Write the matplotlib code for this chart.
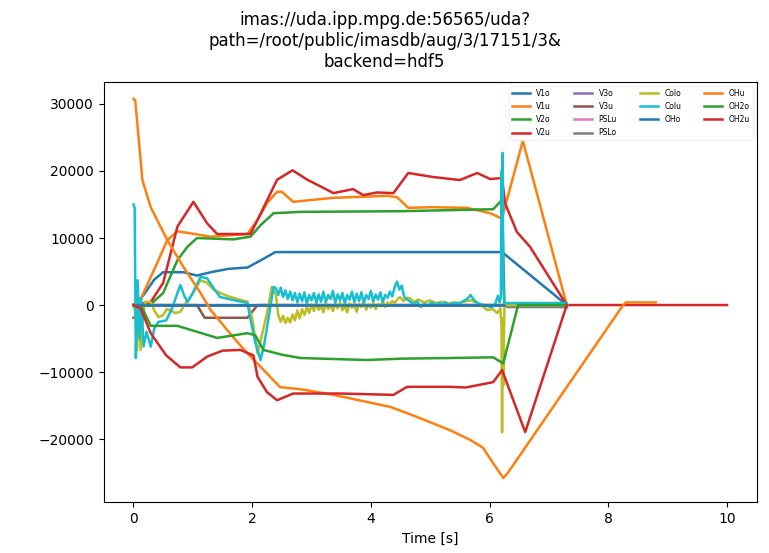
import matplotlib
matplotlib.use('Agg')
import matplotlib.pyplot as plt

title = 'imas://uda.ipp.mpg.de:56565/uda?\npath=/root/public/imasdb/aug/3/17151/3&\nbackend=hdf5'

# coil currents [A] vs time [s]
v1o_t = [0, 0.05, 0.17, 0.35, 0.5, 0.84, 1.07, 1.3, 1.6, 1.92, 2.15, 2.39, 4.0, 6.21, 6.68, 7.3]
v1o_v = [0, 300, 1500, 3800, 4900, 4900, 4400, 4900, 5400, 5600, 6700, 7900, 7900, 7900, 4500, 0]

v1u_t = [0, 0.1, 0.37, 0.57, 0.74, 0.96, 1.3, 1.92, 2.09, 2.25, 2.42, 2.5, 2.69, 3.37, 4.27,
         4.44, 4.63, 5.05, 5.62, 6.01, 6.18, 6.21, 6.56, 7.3]
v1u_v = [0, 500, 5700, 9700, 11000, 10700, 10200, 10600, 12700, 15200, 16900, 16900, 15400, 16000, 16300,
         16100, 14500, 14600, 14500, 13700, 13000, 13000, 24500, 0]

v2o_t = [0, 0.3, 0.5, 0.74, 0.91, 1.07, 1.68, 1.97, 2.14, 2.36, 2.81, 4.5, 6.06, 6.21, 6.25]
v2o_v = [0, 200, 1800, 6700, 8700, 10000, 9800, 10200, 11900, 13700, 13900, 14000, 14300, 15700, 0]

v2u_t = [0, 0.29, 0.5, 0.74, 1.01, 1.24, 1.41, 1.97, 2.09, 2.42, 2.68, 2.93, 3.37, 3.7, 3.87,
         4.1, 4.38, 4.63, 5.05, 5.5, 5.79, 6.01, 6.21, 6.26, 6.46, 6.68, 7.3, 10.0]
v2u_v = [0, 450, 3300, 11700, 15400, 12200, 10600, 10600, 12700, 18700, 20100, 18700, 16700, 17300, 16400,
         16800, 16700, 19700, 19100, 18650, 19700, 18800, 18950, 15200, 10900, 8700, 0, 0]

v3o_t = [0, 7.3]
v3o_v = [0, 0]

v3u_t = [0, 0.04, 0.05, 1.07, 1.2, 1.92, 2.09, 6.3, 7.3]
v3u_v = [-1900, -1900, 0, 0, -1900, -1900, 0, 0, -300]

pslu_t = [0, 7.3]
pslu_v = [0, 0]

pslo_t = [0, 6.25, 6.3, 7.3]
pslo_v = [0, 0, -300, -300]

colo_t = [0, 0.03, 0.06, 0.09, 0.12, 0.16, 0.2, 0.29, 0.35, 0.42, 0.5, 0.56, 0.62, 0.7, 0.79, 0.88,
          0.96, 1.05, 1.13, 1.24, 1.35, 1.46, 1.6, 1.75, 1.92, 2.0, 2.09, 2.15, 2.25, 2.33,
          2.40, 2.44, 2.48, 2.52, 2.56, 2.60, 2.64, 2.68, 2.72, 2.76, 2.80, 2.84, 2.88, 2.92, 2.96,
          3.00, 3.04, 3.08, 3.12, 3.16, 3.20, 3.24, 3.28, 3.32, 3.36, 3.40, 3.44, 3.48, 3.52, 3.56,
          3.60, 3.64, 3.68, 3.72, 3.76, 3.80, 3.84, 3.88, 3.92, 3.96, 4.00, 4.04, 4.08, 4.12, 4.16,
          4.20, 4.24, 4.28, 4.32, 4.36, 4.40,
          4.45, 4.49, 4.55, 4.61, 4.66, 4.72, 4.8, 4.9, 5.0, 5.1, 5.2, 5.3, 5.4,
          5.5, 5.6, 5.7, 5.8, 5.9, 5.96, 6.05, 6.13, 6.18, 6.2, 6.21, 6.22, 6.23, 6.25, 7.3]
colo_v = [0, -1000, -6700, 500, -6700, -1500, 500, 450, -800, -1800, -1500, -600, -750, -1200, -1000, 300,
          1200, 2500, 3700, 3300, 2300, 1800, 1300, 900, 500, -2000, -7200, -5000, -1200, 2700,
          1500, -1500, -2500, -1600, -2700, -1900, -2600, -1400, -2300, -800, -2000, -600, -1500, -300, -1200,
          100, -900, 200, -700, -100, -1100, 300, -600, 0, -900, 200, -500, 400, -800, 0,
          -1100, 300, -400, 100, -1000, 200, -300, 500, -700, 100, -400, 300, -600, 200, -200,
          500, -300, 400, 0, 600, 300,
          900, 1200, 600, 1100, 1000, 500, 800, 400, 700, 300, 500, 200, 400,
          300, 600, 700, 200, -300, -750, -600, -1200, -500, -3000, -19000, -2000, -12000, 0, 0]

colu_t = [0, 0.02, 0.04, 0.07, 0.1, 0.13, 0.17, 0.22, 0.29, 0.35, 0.42, 0.55, 0.65, 0.74, 0.79, 0.85,
          0.91, 1.0, 1.13, 1.24, 1.35, 1.46, 1.68, 1.92, 1.98, 2.05, 2.14, 2.2, 2.25, 2.36,
          2.40, 2.44, 2.48, 2.52, 2.56, 2.60, 2.64, 2.68, 2.72, 2.76, 2.80, 2.84, 2.88, 2.92, 2.96,
          3.00, 3.04, 3.08, 3.12, 3.16, 3.20, 3.24, 3.28, 3.32, 3.36, 3.40, 3.44, 3.48, 3.52, 3.56,
          3.60, 3.64, 3.68, 3.72, 3.76, 3.80, 3.84, 3.88, 3.92, 3.96, 4.00, 4.04, 4.08, 4.12, 4.16,
          4.20, 4.24, 4.28, 4.32, 4.36, 4.40, 4.44, 4.48, 4.52, 4.56, 4.60,
          4.66, 4.72, 4.78, 4.84, 4.9, 4.96, 5.02, 5.08, 5.14,
          5.2, 5.26, 5.32, 5.38, 5.44, 5.5, 5.56, 5.62, 5.68, 5.74, 5.8, 5.86, 5.92, 5.98, 6.04,
          6.1, 6.14, 6.17, 6.19, 6.2, 6.21, 6.22, 6.23, 6.25, 7.3]
colu_v = [15000, 14500, -7900, 3700, -5000, 1000, -6200, -4000, -6200, -3500, -2500, -2300, -500, 1800, 3000, 1500,
          450, 1800, 4200, 4000, 2500, 1200, 750, 300, -2500, -5500, -8200, -6000, -3300, 2700,
          2500, 1500, 2600, 1200, 2200, 900, 2000, 700, 1800, 400, 1700, 600, 1900, 200, 1500,
          700, 1800, 300, 1600, 500, 2000, 400, 1500, 900, 2100, 300, 1600, 700, 1800, 200,
          1500, 800, 2000, 400, 1700, 600, 1900, 300, 1500, 900, 2100, 500, 1600, 800, 1900,
          400, 1500, 1100, 2000, 1300, 2700, 3500, 2300, 2900, 1200, 900,
          500, 200, 500, -300, 200, -100, 400, 0, 300,
          100, 400, 0, 300, 200, 300, 600, 900, 1500, 700, 300, 100, 0, -200, -300,
          300, 1400, 400, 1200, 20000, 5000, 22700, 3000, 300, 300]

oho_t = [0, 6.25]
oho_v = [0, 0]

ohu_t = [0, 0.03, 0.15, 0.29, 0.57, 0.84, 1.13, 1.3, 1.68, 1.92, 2.14, 2.47, 2.81, 3.37, 4.33, 4.78,
         5.34, 5.67, 5.89, 6.06, 6.23, 6.31, 8.25, 8.3, 8.8]
ohu_v = [30750, 30500, 18650, 14600, 9700, 5700, 1800, -750, -4800, -7200, -9200, -12250, -12550, -13400, -15200, -16700,
         -18700, -20100, -21300, -23600, -25800, -25000, 0, 400, 400]

oh2o_t = [0, 0.15, 0.29, 0.74, 1.41, 1.92, 2.05, 2.19, 2.5, 2.81, 3.94, 4.5, 5.34, 6.06, 6.23, 6.48, 7.3]
oh2o_v = [0, -500, -3100, -3100, -4900, -4200, -4500, -6700, -7400, -7900, -8200, -8000, -7900, -7800, -8700, 0, 0]

oh2u_t = [0, 0.12, 0.29, 0.55, 0.79, 0.99, 1.24, 1.5, 1.8, 2.02, 2.09, 2.25, 2.42, 2.69, 3.5, 4.38,
          4.61, 5.34, 5.6, 6.06, 6.21, 6.6, 7.3]
oh2u_v = [0, -500, -4200, -7500, -9300, -9300, -7700, -6800, -6700, -7500, -10700, -13000, -14200, -13200, -13200, -13400,
          -12200, -12200, -12300, -11500, -9700, -18950, 0]

series = [
    ('V1o', v1o_t, v1o_v), ('V1u', v1u_t, v1u_v), ('V2o', v2o_t, v2o_v), ('V2u', v2u_t, v2u_v),
    ('V3o', v3o_t, v3o_v), ('V3u', v3u_t, v3u_v), ('PSLu', pslu_t, pslu_v), ('PSLo', pslo_t, pslo_v),
    ('Colo', colo_t, colo_v), ('Colu', colu_t, colu_v), ('OHo', oho_t, oho_v), ('OHu', ohu_t, ohu_v),
    ('OH2o', oh2o_t, oh2o_v), ('OH2u', oh2u_t, oh2u_v),
]

fig = plt.figure(figsize=(7.69, 5.53), dpi=100)
ax = fig.add_subplot(111)
fig.subplots_adjust(left=0.135, right=0.984, top=0.852, bottom=0.092)

for name, t, v in series:
    ax.plot(t, v, label=name, linewidth=1.8)

fig.suptitle(title, fontsize=12)
ax.set_xlabel('Time [s]')
ax.set_ylim(-29400, 33300)
leg = ax.legend(loc='upper right', ncol=4, fontsize=5.5, handlelength=2.4,
                columnspacing=3.0, labelspacing=0.55)
leg.get_frame().set_edgecolor('#f0f0f0')

plt.savefig('out.png', dpi=100)
